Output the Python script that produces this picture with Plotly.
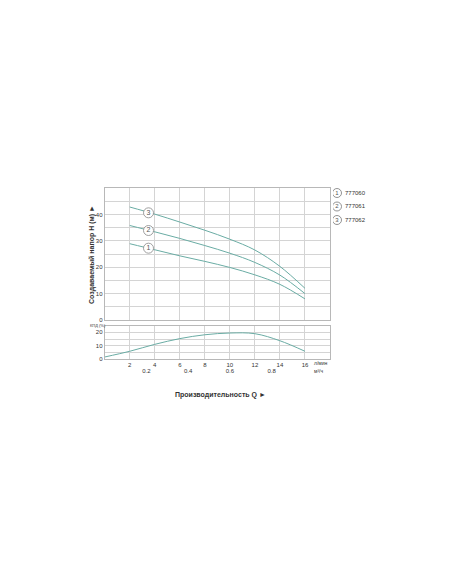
import plotly.graph_objects as go

# ---- data ----
q_lmin = [2, 4, 6, 8, 10, 12, 14, 16]
head_777060 = [28.9, 26.6, 24.3, 22.2, 19.9, 17.1, 13.5, 8.0]
head_777061 = [35.8, 33.4, 30.9, 28.2, 25.3, 21.8, 17.0, 10.0]
head_777062 = [42.8, 40.1, 37.1, 34.0, 30.6, 26.5, 20.3, 12.0]

q_eff = [0, 2, 4, 6, 8, 10, 12, 14, 16]
eff = [1.5, 5.8, 11.0, 15.3, 18.2, 19.5, 19.0, 13.7, 5.8]

label_q = [3.5, 3.5, 3.5]
label_h = [27.2, 33.9, 40.6]
label_txt = ["1", "2", "3"]

models = ["777060", "777061", "777062"]
legend_num = ["1", "2", "3"]
x_ticks = [2, 4, 6, 8, 10, 12, 14, 16]
m3h_ticks = [0.2, 0.4, 0.6, 0.8]

W, H = 452, 584
OFF = 8  # page body margin
CURVE = "#6aaca4"
GRID = "#d4d4d4"
AX = "#b8b8b8"
TXT = "#333333"

def px_x(p):
    return (p - OFF) / W

def px_y(p):
    return 1 - (p - OFF) / H

xdom = [px_x(104.7), px_x(330)]
top_dom = [px_y(320), px_y(188)]
bot_dom = [px_y(359), px_y(325.7)]

fig = go.Figure()

for h in (head_777060, head_777061, head_777062):
    fig.add_trace(go.Scatter(x=q_lmin, y=h, mode="lines", line=dict(color=CURVE, width=1, shape="spline"),
                             xaxis="x", yaxis="y", showlegend=False, hoverinfo="skip"))

fig.add_trace(go.Scatter(x=label_q, y=label_h, mode="markers+text", text=label_txt,
                         textposition="middle center", textfont=dict(size=7, color="#555"),
                         marker=dict(symbol="circle", size=10, color="white", line=dict(color="#888", width=0.8)),
                         xaxis="x", yaxis="y", showlegend=False, hoverinfo="skip"))

fig.add_trace(go.Scatter(x=q_eff, y=eff, mode="lines", line=dict(color=CURVE, width=1, shape="spline"),
                         xaxis="x2", yaxis="y2", showlegend=False, hoverinfo="skip"))

# secondary m3/h axis (values in l/min positions)
fig.add_trace(go.Scatter(x=[v * 1000 / 60 for v in m3h_ticks], y=[None] * 4, mode="markers",
                         xaxis="x3", yaxis="y2", showlegend=False, hoverinfo="skip"))

# legend box drawn on a hidden auxiliary axis pair
leg_rows = [0, 1, 2]
fig.add_trace(go.Scatter(x=[0] * 3, y=leg_rows, mode="markers+text", text=legend_num,
                         textposition="middle center", textfont=dict(size=6, color="#555"),
                         marker=dict(symbol="circle", size=9, color="white", line=dict(color="#777", width=0.8)),
                         xaxis="x4", yaxis="y4", showlegend=False, hoverinfo="skip"))
fig.add_trace(go.Scatter(x=[1.0] * 3, y=leg_rows, mode="text", text=models,
                         textposition="middle right", textfont=dict(size=6, color=TXT),
                         xaxis="x4", yaxis="y4", showlegend=False, hoverinfo="skip"))

grid_common = dict(showgrid=True, gridcolor=GRID, gridwidth=1, zeroline=False, automargin=False,
                   showline=True, linecolor=AX, mirror=True, linewidth=1)
hidden = dict(visible=False, showgrid=False, zeroline=False, automargin=False)

fig.update_layout(
    template="none",
    width=W, height=H,
    margin=dict(l=0, r=0, t=0, b=0, pad=0),
    paper_bgcolor="white", plot_bgcolor="white",
    font=dict(family="Liberation Sans, Arial, sans-serif", size=6, color=TXT),
    xaxis=dict(domain=xdom, anchor="y", range=[0, 18], tickvals=list(range(0, 19, 2)),
               showticklabels=False, ticks="", **grid_common),
    yaxis=dict(domain=top_dom, anchor="x", range=[0, 50],
               tickvals=[0, 5, 10, 15, 20, 25, 30, 35, 40, 45],
               ticktext=["0", "", "10", "", "20", "", "30", "", "40", ""],
               ticks="", tickfont=dict(size=6), **grid_common),
    xaxis2=dict(domain=xdom, anchor="y2", range=[0, 18], tickvals=list(range(0, 19, 2)),
                ticktext=[""] + [str(v) for v in x_ticks] + [""],
                ticks="", tickfont=dict(size=6), **grid_common),
    yaxis2=dict(domain=bot_dom, anchor="x2", range=[0, 25],
                tickvals=[0, 5, 10, 15, 20], ticktext=["0", "", "10", "", "20"],
                ticks="", tickfont=dict(size=6), **grid_common),
    xaxis3=dict(overlaying="x2", anchor="free", position=px_y(366), range=[0, 18], automargin=False,
                tickvals=[v * 1000 / 60 for v in m3h_ticks], ticktext=[str(v) for v in m3h_ticks],
                showgrid=False, zeroline=False, showline=False, ticks="", tickfont=dict(size=6)),
    xaxis4=dict(domain=[px_x(333), px_x(373)], anchor="y4", range=[-0.5, 4.5], **hidden),
    yaxis4=dict(domain=[px_y(226.75), px_y(186.25)], anchor="x4", range=[2.5, -0.5], **hidden),
)

# axis titles
fig.add_annotation(xref="paper", yref="paper", x=px_x(86), y=px_y(255), text="<b>Создаваемый напор H (м) ►</b>",
                   textangle=-90, showarrow=False, font=dict(size=7, color=TXT))
fig.add_annotation(xref="paper", yref="paper", x=px_x(220), y=px_y(395), text="<b>Производительность Q ►</b>",
                   showarrow=False, font=dict(size=7, color=TXT))
fig.add_annotation(xref="paper", yref="paper", x=px_x(88), y=px_y(325.5), text="КПД (%)",
                   showarrow=False, font=dict(size=4, color=TXT))
fig.add_annotation(xref="paper", yref="paper", x=px_x(312), y=px_y(363), xanchor="left", text="л/мин",
                   showarrow=False, font=dict(size=5, color=TXT))
fig.add_annotation(xref="paper", yref="paper", x=px_x(312), y=px_y(371), xanchor="left", text="м³/ч",
                   showarrow=False, font=dict(size=5, color=TXT))

fig.write_html("out.html")
